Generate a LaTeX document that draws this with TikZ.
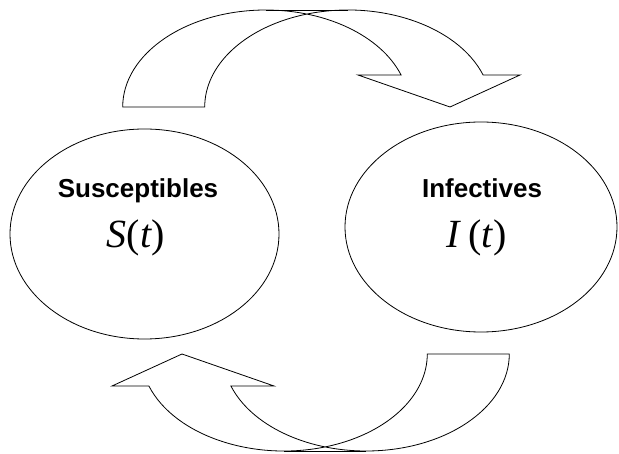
\documentclass[tikz,border=0pt]{standalone}
\usepackage{fontspec}
\setmainfont{Liberation Serif}
\newfontfamily\arialfont{Liberation Sans}
\usetikzlibrary{shapes.geometric}
\tikzset{
  outline/.style={draw=black, line width=0.8pt, line join=miter, fill=white},
  compartment/.style={ellipse, draw=black, line width=0.8pt, inner sep=0pt},
  lab/.style={font=\arialfont\bfseries\fontsize{26}{30}\selectfont, anchor=base, inner sep=0pt},
  mth/.style={font=\fontsize{40}{44}\selectfont, anchor=base, inner sep=0pt},
  curvedarrow/.pic={
    \draw[outline] (122.7,346)
      arc[start angle=180, end angle=19.26, x radius=143.2pt, y radius=97pt]
      -- (358,378) -- (450,346) -- (520,378) -- (483.1,378)
      arc[start angle=19.26, end angle=180, x radius=143.2pt, y radius=97pt]
      -- cycle;
    \draw[outline] (265.9,443) -- (347.9,443);
  }
}
\begin{document}
\begin{tikzpicture}[x=1pt,y=1pt]
\useasboundingbox (0,0) rectangle (619,453);
\node[compartment, minimum width=269pt, minimum height=210pt] (S) at (144.5,219) {};
\node[compartment, minimum width=272pt, minimum height=210pt] (I) at (481,226) {};
\node[lab] (Sname) at (138,255) {Susceptibles};
\node[mth] (Sexpr) at (136,205) {\textit{S}(\textit{t})};
\node[lab] (Iname) at (482,255) {Infectives};
\node[mth] (Iexpr) at (477,205) {\textit{I}\,(\textit{t})};
\pic at (0,0) {curvedarrow};
\pic[rotate around={180:(316,222.5)}] at (0,0) {curvedarrow};
\end{tikzpicture}
\end{document}
